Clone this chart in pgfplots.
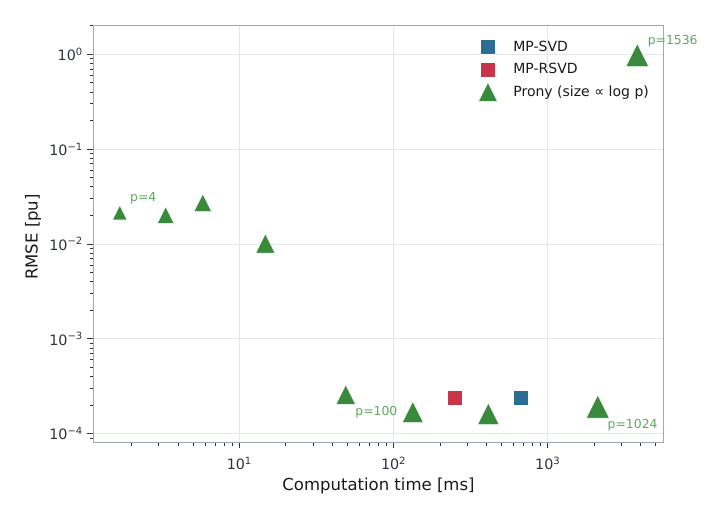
\documentclass[border=0pt]{standalone}
\usepackage{fontspec}
\setmainfont{DejaVu Sans}
\usepackage{pgfplots}
\pgfplotsset{compat=1.18}
\definecolor{cgreen}{RGB}{58,138,60}
\definecolor{cann}{RGB}{95,168,95}
\definecolor{cblue}{RGB}{42,110,150}
\definecolor{cred}{RGB}{200,52,72}
\definecolor{spine}{RGB}{160,168,184}
\definecolor{gridc}{RGB}{229,231,236}
\definecolor{tickc}{RGB}{45,50,60}
\pgfdeclareplotmark{mtri}{%
  \pgfpathmoveto{\pgfqpoint{0pt}{\pgfplotmarksize}}%
  \pgfpathlineto{\pgfqpoint{-\pgfplotmarksize}{-\pgfplotmarksize}}%
  \pgfpathlineto{\pgfqpoint{\pgfplotmarksize}{-\pgfplotmarksize}}%
  \pgfpathclose
  \pgfusepathqfillstroke
}
\pgfplotsset{tri/.style={only marks, mark=mtri, mark size=#1, mark options={fill=cgreen, draw=white, line width=0.5pt}, forget plot}}
\begin{document}
\begin{tikzpicture}[x=1pt,y=1pt]
\useasboundingbox (0,0) rectangle (725,518);
\begin{axis}[
  at={(93.3pt,75.7pt)}, anchor=south west,
  width=570.4pt, height=416.6pt, scale only axis,
  clip=false,
  xmode=log, ymode=log,
  xmin=1.13, xmax=5650, ymin=8.11e-5, ymax=2.0,
  xtick={10,100,1000},
  xticklabels={10\textsuperscript{1},10\textsuperscript{2},10\textsuperscript{3}},
  ytick={1e-4,1e-3,1e-2,1e-1,1},
  yticklabels={10\textsuperscript{−4},10\textsuperscript{−3},10\textsuperscript{−2},10\textsuperscript{−1},10\textsuperscript{0}},
  minor xtick={2,3,4,5,6,7,8,9,20,30,40,50,60,70,80,90,200,300,400,500,600,700,800,900,2000,3000,4000,5000},
  minor ytick={9e-5,2e-4,3e-4,4e-4,5e-4,6e-4,7e-4,8e-4,9e-4,2e-3,3e-3,4e-3,5e-3,6e-3,7e-3,8e-3,9e-3,2e-2,3e-2,4e-2,5e-2,6e-2,7e-2,8e-2,9e-2,0.2,0.3,0.4,0.5,0.6,0.7,0.8,0.9,2},
  grid=major,
  major grid style={gridc, line width=0.8pt},
  axis line style={spine, line width=1.5pt},
  tick align=outside, tick pos=left,
  major tick length=6pt, minor tick length=3.5pt,
  every tick/.style={tickc, line width=0.8pt},
  tick label style={font=\fontsize{14.3}{16}\selectfont, text=tickc},
  xticklabel style={anchor=base, yshift=-21pt},
  yticklabel style={anchor=east, xshift=-1pt},
  xlabel={Computation time [ms]},
  ylabel={RMSE [pu]},
  every axis x label/.style={at={(axis description cs:0.5,0)}, anchor=base, yshift=-47.7pt, font=\fontsize{16.5}{19}\selectfont, text=black!90},
  every axis y label/.style={at={(axis description cs:0,0.5)}, anchor=center, rotate=90, yshift=60.3pt, xshift=-3pt, font=\fontsize{16.5}{19}\selectfont, text=black!90},
  legend style={draw=none, fill=none, inner sep=0pt, at={(axis description cs:0.6704,0.9766)}, anchor=north west,
    font=\fontsize{14}{16}\selectfont, nodes={draw=none, fill=none, inner sep=0.5pt, text=black!90}, row sep=0pt, column sep=0pt},
  legend cell align=left,
  legend image code/.code={\path[draw=none,fill=none] (-12pt,-11.25pt) rectangle (25pt,11.25pt); \draw[#1] plot coordinates {(0pt,0pt)};},
]
\addplot[only marks, mark=square*, mark size=7.6pt, mark options={fill=cblue, draw=white, line width=0.5pt}] coordinates {(671,2.38e-4)};
\addlegendentry{MP-SVD}
\addplot[only marks, mark=square*, mark size=7.6pt, mark options={fill=cred, draw=white, line width=0.5pt}] coordinates {(250,2.38e-4)};
\addlegendentry{MP-RSVD}
\addlegendimage{only marks, mark=mtri, mark size=9.5pt, mark options={fill=cgreen, draw=white, line width=0.5pt}}
\addlegendentry{Prony (size ∝ log p)}
\addplot[tri=7.3pt] coordinates {(1.677,0.0214)};
\addplot[tri=8.3pt] coordinates {(3.33,0.0202)};
\addplot[tri=8.8pt] coordinates {(5.80,0.0272)};
\addplot[tri=9.7pt] coordinates {(14.75,0.0101)};
\addplot[tri=9.8pt] coordinates {(49.0,2.58e-4)};
\addplot[tri=10.6pt] coordinates {(133.4,1.69e-4)};
\addplot[tri=10.8pt] coordinates {(412,1.615e-4)};
\addplot[tri=11.5pt] coordinates {(2109,1.93e-4)};
\addplot[tri=11.5pt] coordinates {(3810,0.976)};
\begin{scope}[every node/.style={font=\fontsize{12.4}{14}\selectfont, text=cann, inner sep=0pt}]
\node[anchor=base west, xshift=10.2pt, yshift=11pt] at (axis cs:1.677,0.0214) {p=4};
\node[anchor=base west, xshift=9.5pt, yshift=-21.2pt] at (axis cs:49.0,2.58e-4) {p=100};
\node[anchor=base west, xshift=9.8pt, yshift=-21.6pt] at (axis cs:2109,1.93e-4) {p=1024};
\node[anchor=base west, xshift=10.3pt, yshift=11pt] at (axis cs:3810,0.976) {p=1536};
\end{scope}
\end{axis}
\end{tikzpicture}
\end{document}
